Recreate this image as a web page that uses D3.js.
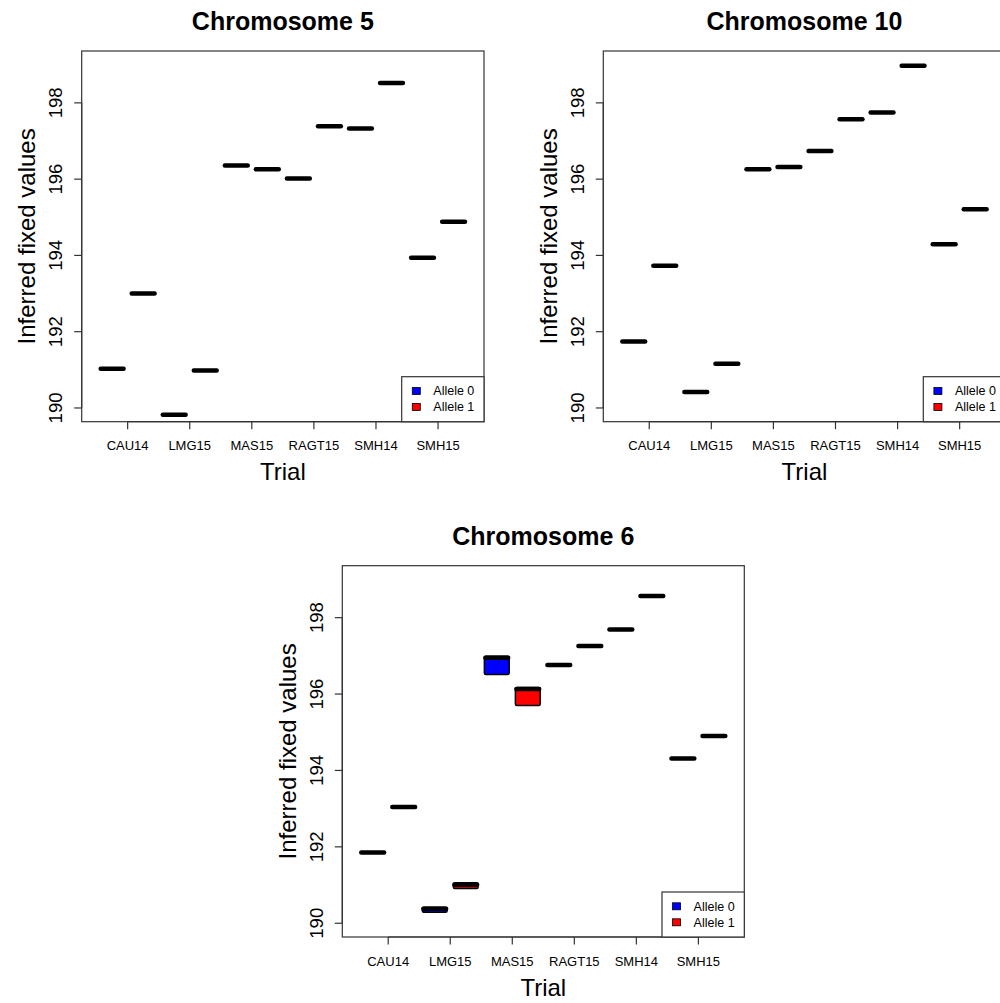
<!DOCTYPE html>
<html>
<head>
<meta charset="utf-8">
<script src="https://cdn.jsdelivr.net/npm/d3@7"></script>
<style>
  html, body { margin: 0; padding: 0; background: #fff; }
  svg { display: block; font-family: "Liberation Sans", Arial, Helvetica, sans-serif; }
</style>
</head>
<body>
<svg id="chart" width="1000" height="1003"></svg>
<script>
// ---- Data ----
const trials = ["CAU14", "LMG15", "MAS15", "RAGT15", "SMH14", "SMH15"];
const alleles = ["Allele 0", "Allele 1"];
const alleleColors = ["#0000ff", "#ff0000"];
const yTicks = [190, 192, 194, 196, 198];
const yLimits = [190, 199];

// order: CAU14 A0, CAU14 A1, LMG15 A0, LMG15 A1, ... SMH15 A1
const chr5Median  = [191.03, 193.00, 189.82, 190.98, 196.36, 196.26, 196.02, 197.39, 197.33, 198.52, 193.94, 194.88];
const chr10Median = [191.74, 193.73, 190.42, 191.16, 196.26, 196.32, 196.74, 197.57, 197.75, 198.97, 194.29, 195.21];
const chr6Median  = [191.85, 193.04, 190.38, 191.01, 196.95, 196.13, 196.76, 197.26, 197.69, 198.57, 194.31, 194.90];
const chr6Lower   = [191.85, 193.04, 190.29, 190.91, 196.51, 195.70, 196.76, 197.26, 197.69, 198.57, 194.31, 194.90];
const chr6Upper   = [191.85, 193.04, 190.42, 191.06, 196.99, 196.17, 196.76, 197.26, 197.69, 198.57, 194.31, 194.90];

const panels = [
  { title: "Chromosome 5",  left: 81.7,  right: 484.0,  top: 51.0,  bottom: 421.7,
    median: chr5Median, lower: chr5Median, upper: chr5Median },
  { title: "Chromosome 10", left: 603.3, right: 1005.6, top: 51.0,  bottom: 421.7,
    median: chr10Median, lower: chr10Median, upper: chr10Median },
  { title: "Chromosome 6",  left: 342.3, right: 744.3,  top: 565.7, bottom: 937.0,
    median: chr6Median, lower: chr6Lower, upper: chr6Upper }
];

const svg = d3.select("#chart");
const frameColor = "#333";

function drawPanel(p) {
  const n = trials.length * alleles.length;
  const ext = n * 0.04;
  const x = d3.scaleLinear().domain([0.5 - ext, n + 0.5 + ext]).range([p.left, p.right]);
  const yext = (yLimits[1] - yLimits[0]) * 0.04;
  const y = d3.scaleLinear().domain([yLimits[0] - yext, yLimits[1] + yext]).range([p.bottom, p.top]);
  const g = svg.append("g");

  const boxes = d3.range(n).map(i => ({
    pos: i + 1,
    allele: i % 2,
    lo: p.lower[i], med: p.median[i], hi: p.upper[i]
  }));
  const half = 0.4;

  // boxes
  g.selectAll("rect.box").data(boxes).enter().append("rect")
    .attr("class", "box")
    .attr("x", d => x(d.pos - half))
    .attr("width", d => x(d.pos + half) - x(d.pos - half))
    .attr("y", d => y(d.hi))
    .attr("height", d => Math.max(0, y(d.lo) - y(d.hi)))
    .attr("rx", 1.5)
    .attr("fill", d => alleleColors[d.allele])
    .attr("stroke", "#000")
    .attr("stroke-width", 1.5);
  // medians
  g.selectAll("line.med").data(boxes).enter().append("line")
    .attr("x1", d => x(d.pos - half) + 1)
    .attr("x2", d => x(d.pos + half) - 1)
    .attr("y1", d => y(d.med))
    .attr("y2", d => y(d.med))
    .attr("stroke", "#000")
    .attr("stroke-width", 4.5)
    .attr("stroke-linecap", "round");

  // frame
  g.append("rect")
    .attr("x", p.left).attr("y", p.top)
    .attr("width", p.right - p.left).attr("height", p.bottom - p.top)
    .attr("fill", "none").attr("stroke", frameColor).attr("stroke-width", 1.2);

  // x axis
  const xTickPos = trials.map((t, i) => 2 * i + 1.5);
  const xa = g.append("g");
  xa.append("line")
    .attr("x1", x(xTickPos[0])).attr("x2", x(xTickPos[xTickPos.length - 1]))
    .attr("y1", p.bottom).attr("y2", p.bottom)
    .attr("stroke", frameColor).attr("stroke-width", 1.2);
  xa.selectAll("line.tk").data(xTickPos).enter().append("line")
    .attr("x1", d => x(d)).attr("x2", d => x(d))
    .attr("y1", p.bottom).attr("y2", p.bottom + 7.5)
    .attr("stroke", frameColor).attr("stroke-width", 1.2);
  xa.selectAll("text").data(trials).enter().append("text")
    .attr("x", (d, i) => x(xTickPos[i]))
    .attr("y", p.bottom + 28.5)
    .attr("text-anchor", "middle")
    .attr("font-size", 13)
    .attr("fill", "#000")
    .text(d => d);

  // y axis
  const ya = g.append("g");
  ya.append("line")
    .attr("x1", p.left).attr("x2", p.left)
    .attr("y1", y(yTicks[0])).attr("y2", y(yTicks[yTicks.length - 1]))
    .attr("stroke", frameColor).attr("stroke-width", 1.2);
  ya.selectAll("line.tk").data(yTicks).enter().append("line")
    .attr("x1", p.left - 7.5).attr("x2", p.left)
    .attr("y1", d => y(d)).attr("y2", d => y(d))
    .attr("stroke", frameColor).attr("stroke-width", 1.2);
  ya.selectAll("text").data(yTicks).enter().append("text")
    .attr("transform", d => `translate(${p.left - 19.7},${y(d)}) rotate(-90)`)
    .attr("text-anchor", "middle")
    .attr("font-size", 18.5)
    .attr("fill", "#000")
    .text(d => d);

  // axis titles
  g.append("text")
    .attr("x", (p.left + p.right) / 2)
    .attr("y", p.bottom + 58.5)
    .attr("text-anchor", "middle")
    .attr("font-size", 24)
    .text("Trial");
  g.append("text")
    .attr("transform", `translate(${p.left - 46.5},${(p.top + p.bottom) / 2}) rotate(-90)`)
    .attr("text-anchor", "middle")
    .attr("font-size", 24)
    .text("Inferred fixed values");

  // title
  g.append("text")
    .attr("x", (p.left + p.right) / 2)
    .attr("y", p.top - 21)
    .attr("text-anchor", "middle")
    .attr("font-size", 25)
    .attr("font-weight", "bold")
    .text(p.title);

  // legend
  const lg = g.append("g");
  const lw = 82.3, lh = 45.0;
  const lx = p.right - lw, ly = p.bottom - lh;
  lg.append("rect")
    .attr("x", lx).attr("y", ly)
    .attr("width", lw).attr("height", lh)
    .attr("fill", "#fff").attr("stroke", frameColor).attr("stroke-width", 1.2);
  alleles.forEach((a, i) => {
    const cy = ly + 14.3 + i * 16;
    lg.append("rect")
      .attr("x", lx + 10.6).attr("y", cy - 3.5)
      .attr("width", 8).attr("height", 7)
      .attr("fill", alleleColors[i]).attr("stroke", "#000").attr("stroke-width", 0.8);
    lg.append("text")
      .attr("x", lx + 31.6).attr("y", cy + 4.2)
      .attr("font-size", 12.5)
      .text(a);
  });
}

panels.forEach(drawPanel);
</script>
</body>
</html>
